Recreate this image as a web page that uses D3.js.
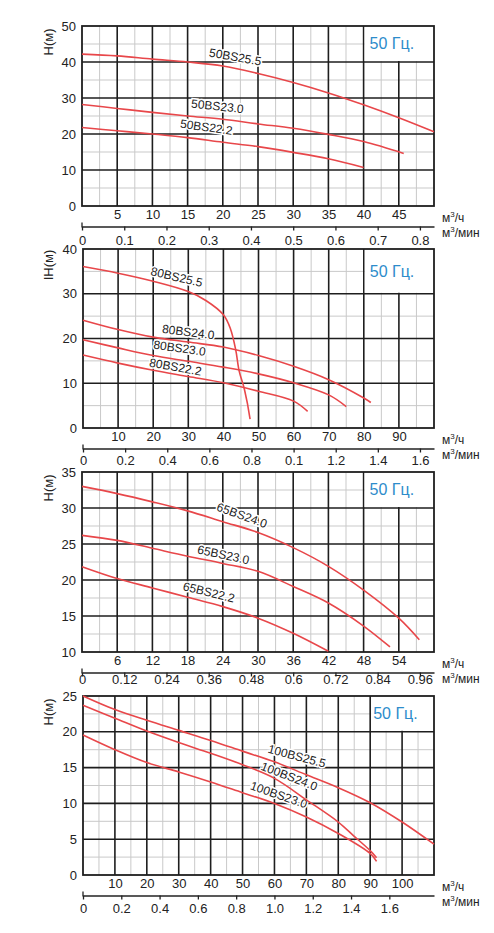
<!DOCTYPE html>
<html>
<head>
<meta charset="utf-8">
<script src="https://cdn.jsdelivr.net/npm/d3@7"></script>
<style>
  body { margin: 0; background: #fff; }
  svg { display: block; font-family: "Liberation Sans", Arial, sans-serif; }
</style>
</head>
<body>
<svg id="chart" width="494" height="933"></svg>
<script>
// ---- data: flow Q (m3/h) and head H (m) ----

// panel 1 : 50BS
var q50bs255 = [0, 5, 10, 15, 20, 25, 30, 35, 40, 45, 50];
var h50bs255 = [42.2, 41.7, 40.8, 40.0, 38.9, 36.8, 34.3, 31.4, 28.1, 24.5, 20.6];
var q50bs230 = [0, 5, 10, 15, 20, 25, 30, 35, 40, 45.7];
var h50bs230 = [28.2, 27.1, 26.0, 25.0, 24.1, 22.8, 21.6, 19.9, 17.9, 14.6];
var q50bs222 = [0, 5, 10, 15, 20, 25, 30, 35, 40];
var h50bs222 = [21.8, 20.9, 20.0, 19.0, 17.7, 16.5, 14.9, 13.1, 10.7];

// panel 2 : 80BS
var q80bs255 = [0, 10, 20, 30, 35, 40, 42, 43.5, 44.5, 46, 47.6];
var h80bs255 = [36.1, 34.6, 32.8, 30.5, 28.5, 25.3, 22.2, 17.5, 12.7, 8.6, 2.0];
var q80bs240 = [0, 10, 20, 30, 40, 50, 60, 70, 80, 82];
var h80bs240 = [24.1, 22.0, 20.3, 19.2, 18.1, 16.2, 13.8, 10.8, 6.7, 5.7];
var q80bs230 = [0, 10, 20, 30, 40, 50, 60, 70, 75];
var h80bs230 = [19.7, 17.9, 16.2, 14.9, 13.6, 12.1, 10.1, 7.4, 4.8];
var q80bs222 = [0, 10, 20, 30, 40, 50, 60, 64];
var h80bs222 = [16.3, 14.5, 12.9, 11.5, 10.1, 8.2, 6.0, 3.7];

// panel 3 : 65BS
var q65bs240 = [0, 6, 12, 18, 24, 30, 36, 42, 48, 54, 57.5];
var h65bs240 = [33.0, 32.0, 30.85, 29.6, 28.1, 26.6, 24.5, 21.9, 18.6, 14.7, 11.7];
var q65bs230 = [0, 6, 12, 18, 24, 30, 36, 42, 48, 52.5];
var h65bs230 = [26.2, 25.5, 24.4, 23.3, 22.3, 21.2, 19.1, 16.8, 13.6, 10.7];
var q65bs222 = [0, 6, 12, 18, 24, 30, 36, 42];
var h65bs222 = [21.85, 20.2, 18.9, 17.6, 16.3, 14.7, 12.6, 10.1];

// panel 4 : 100BS
var q100bs255 = [0, 10, 20, 30, 40, 50, 60, 70, 80, 90, 100, 110];
var h100bs255 = [25.0, 23.1, 21.6, 20.2, 18.8, 17.3, 15.8, 14.0, 12.2, 10.1, 7.4, 4.3];
var q100bs240 = [0, 10, 20, 30, 40, 50, 60, 70, 80, 85, 90, 92];
var h100bs240 = [23.7, 21.9, 20.1, 18.5, 17.0, 15.4, 13.5, 10.5, 7.4, 5.4, 3.4, 2.4];
var q100bs230 = [0, 10, 20, 30, 40, 50, 60, 70, 80, 90, 92];
var h100bs230 = [19.55, 17.5, 15.7, 14.4, 13.0, 11.5, 10.0, 8.1, 5.8, 3.0, 1.9];

// tick labels
var qTicks1 = [5, 10, 15, 20, 25, 30, 35, 40, 45];
var mTicks1 = ["0", "0.1", "0.2", "0.3", "0.4", "0.5", "0.6", "0.7", "0.8"];
var hTicks1 = [0, 10, 20, 30, 40, 50];
var qTicks2 = [10, 20, 30, 40, 50, 60, 70, 80, 90];
var mTicks2 = ["0", "0.2", "0.4", "0.6", "0.8", "0.1", "1.2", "1.4", "1.6"];
var hTicks2 = [0, 10, 20, 30, 40];
var qTicks3 = [6, 12, 18, 24, 30, 36, 42, 48, 54];
var mTicks3 = ["0", "0.12", "0.24", "0.36", "0.48", "0.6", "0.72", "0.84", "0.96"];
var hTicks3 = [10, 15, 20, 25, 30, 35];
var qTicks4 = [10, 20, 30, 40, 50, 60, 70, 80, 90, 100];
var mTicks4 = ["0", "0.2", "0.4", "0.6", "0.8", "1.0", "1.2", "1.4", "1.6"];
var hTicks4 = [0, 5, 10, 15, 20, 25];

var mStep = [0.1, 0.2, 0.12, 0.2];  // m3/min between secondary ticks
var freqLabel = "50 Гц.";
var yTitles = ["H(м)", "IH(м)", "H(м)", "H(м)"];

var red = "#e8474a";
var blue = "#2d8ccb";

function pairs(q, h) {
    return q.map((d, i) => [d, h[i]]);
}

// layout of the four panels; series/labels built from the arrays above
var panels = [
    {
        top: 26, bottom: 206, left: 82, right: 434,
        qMax: 50, hMin: 0, hMax: 50, qMinor: 2.5, hMinor: 5, qMajor: 5, hMajor: 10,
        box: [40, 40], qTicks: qTicks1, mTicks: mTicks1, hTicks: hTicks1, sec: 34,
        series: [
            {name: "50BS25.5", pts: pairs(q50bs255, h50bs255), at: [21.7, 40.6], rot: 10},
            {name: "50BS23.0", pts: pairs(q50bs230, h50bs230), at: [19.2, 26.9], rot: 6},
            {name: "50BS22.2", pts: pairs(q50bs222, h50bs222), at: [17.6, 21.1], rot: 8}
        ]
    },
    {
        top: 249, bottom: 428, left: 83, right: 434,
        qMax: 100, hMin: 0, hMax: 40, qMinor: 5, hMinor: 5, qMajor: 10, hMajor: 10,
        box: [80, 30], qTicks: qTicks2, mTicks: mTicks2, hTicks: hTicks2, sec: 32,
        series: [
            {name: "80BS25.5", pts: pairs(q80bs255, h80bs255), at: [26.5, 33.1], rot: 13},
            {name: "80BS24.0", pts: pairs(q80bs240, h80bs240), at: [29.9, 20.8], rot: 7},
            {name: "80BS23.0", pts: pairs(q80bs230, h80bs230), at: [27.4, 17.2], rot: 8},
            {name: "80BS22.2", pts: pairs(q80bs222, h80bs222), at: [26.2, 13.0], rot: 10}
        ]
    },
    {
        top: 472, bottom: 652, left: 82, right: 434,
        qMax: 60, hMin: 10, hMax: 35, qMinor: 3, hMinor: 2.5, qMajor: 6, hMajor: 5,
        box: [48, 30], qTicks: qTicks3, mTicks: mTicks3, hTicks: hTicks3, sec: 27,
        series: [
            {name: "65BS24.0", pts: pairs(q65bs240, h65bs240), at: [27.1, 28.6], rot: 20},
            {name: "65BS23.0", pts: pairs(q65bs230, h65bs230), at: [24.0, 23.1], rot: 12},
            {name: "65BS22.2", pts: pairs(q65bs222, h65bs222), at: [21.5, 17.9], rot: 14}
        ]
    },
    {
        top: 696, bottom: 875, left: 83, right: 434,
        qMax: 110, hMin: 0, hMax: 25, qMinor: 5, hMinor: 2.5, qMajor: 10, hMajor: 5,
        box: [90, 20], qTicks: qTicks4, mTicks: mTicks4, hTicks: hTicks4, sec: 33,
        series: [
            {name: "100BS25.5", pts: pairs(q100bs255, h100bs255), at: [66.8, 16.2], rot: 15},
            {name: "100BS24.0", pts: pairs(q100bs240, h100bs240), at: [64.3, 13.4], rot: 21},
            {name: "100BS23.0", pts: pairs(q100bs230, h100bs230), at: [61.1, 10.8], rot: 19}
        ]
    }
];

var svg = d3.select("#chart");

function drawPanel(p, idx) {
    let x = d3.scaleLinear().domain([0, p.qMax]).range([p.left, p.right]);
    let y = d3.scaleLinear().domain([p.hMin, p.hMax]).range([p.bottom, p.top]);
    let g = svg.append("g");

    // minor grid (gray)
    let qMinor = d3.range(p.qMinor, p.qMax, p.qMinor * 2);
    let hMinor = d3.range(p.hMin + p.hMinor, p.hMax, p.hMinor * 2);
    g.selectAll("line.vmin").data(qMinor).join("line")
        .attr("x1", d => x(d)).attr("x2", d => x(d))
        .attr("y1", p.top).attr("y2", p.bottom)
        .attr("stroke", "#c9c9c9").attr("stroke-width", 1);
    g.selectAll("line.hmin").data(hMinor).join("line")
        .attr("y1", d => y(d)).attr("y2", d => y(d))
        .attr("x1", p.left).attr("x2", p.right)
        .attr("stroke", "#c9c9c9").attr("stroke-width", 1);

    // major grid (black)
    let qMajor = d3.range(p.qMajor, p.qMax - 0.001, p.qMajor);
    let hMajor = d3.range(p.hMin + p.hMajor, p.hMax - 0.001, p.hMajor);
    g.selectAll("line.vmaj").data(qMajor).join("line")
        .attr("x1", d => x(d)).attr("x2", d => x(d))
        .attr("y1", p.top).attr("y2", p.bottom)
        .attr("stroke", "#1e1e1e").attr("stroke-width", 1.6);
    g.selectAll("line.hmaj").data(hMajor).join("line")
        .attr("y1", d => y(d)).attr("y2", d => y(d))
        .attr("x1", p.left).attr("x2", p.right)
        .attr("stroke", "#1e1e1e").attr("stroke-width", 1.6);

    // white box for the frequency label
    let bx = x(p.box[0]), by = y(p.box[1]);
    g.append("rect")
        .attr("x", bx + 1).attr("y", p.top)
        .attr("width", p.right - bx - 1).attr("height", by - p.top - 1)
        .attr("fill", "#fff");
    g.append("text")
        .attr("x", bx + (idx == 3 ? 3 : 6)).attr("y", (p.top + by) / 2 + 1)
        .attr("dominant-baseline", "middle")
        .attr("fill", blue).attr("font-size", "16px")
        .text(freqLabel);

    // frame
    g.append("rect")
        .attr("x", p.left).attr("y", p.top)
        .attr("width", p.right - p.left).attr("height", p.bottom - p.top)
        .attr("fill", "none").attr("stroke", "#1e1e1e").attr("stroke-width", 1.8);

    // curve names, with a white halo over the grid
    g.selectAll("text.clabel").data(p.series).join("text")
        .attr("transform", d => "translate(" + x(d.at[0]) + "," + y(d.at[1]) + ") rotate(" + d.rot + ")")
        .attr("y", -2)
        .attr("text-anchor", "middle").attr("dominant-baseline", "middle")
        .attr("font-size", "12px").attr("fill", "#222")
        .attr("stroke", "#fff").attr("stroke-width", 3).attr("paint-order", "stroke")
        .text(d => d.name);

    // curves
    let line = d3.line().x(d => x(d[0])).y(d => y(d[1])).curve(d3.curveCatmullRom.alpha(0.5));
    g.selectAll("path.curve").data(p.series).join("path")
        .attr("d", d => line(d.pts))
        .attr("fill", "none").attr("stroke", red).attr("stroke-width", 1.6);

    // y axis numbers
    let yAxis = d3.axisLeft(y).tickValues(p.hTicks).tickSize(0).tickPadding(6);
    let ya = g.append("g").attr("transform", "translate(" + p.left + ",0)").call(yAxis);
    ya.select(".domain").remove();
    ya.selectAll("text").attr("font-size", "13px").attr("fill", "#222")
        .attr("font-family", "Liberation Sans, Arial, sans-serif");

    g.append("text")
        .attr("transform", "translate(50," + (p.top + 16) + ") rotate(-90)")
        .attr("text-anchor", "middle").attr("dominant-baseline", "middle")
        .attr("font-size", "13px").attr("fill", "#222")
        .text(yTitles[idx]);

    // primary x axis numbers (m3/h)
    let xAxis = d3.axisBottom(x).tickValues(p.qTicks).tickSize(0).tickPadding(4);
    let xa = g.append("g").attr("transform", "translate(0," + p.bottom + ")").call(xAxis);
    xa.select(".domain").remove();
    xa.selectAll("text").attr("font-size", "13px").attr("fill", "#222")
        .attr("font-family", "Liberation Sans, Arial, sans-serif");

    // secondary axis (m3/min)
    let m = d3.scaleLinear().domain([0, p.qMax / 60]).range([p.left, p.right]);
    let mVals = p.mTicks.map((d, i) => i * mStep[idx]);
    let mAxis = d3.axisBottom(m).tickValues(mVals).tickSize(4).tickSizeOuter(0)
        .tickFormat((d, i) => p.mTicks[i]).tickPadding(3);
    let lineY = p.bottom + 20.5;
    let ma = g.append("g").attr("transform", "translate(0," + lineY + ")").call(mAxis);
    ma.select(".domain").attr("stroke", "#222").attr("stroke-width", 1.3);
    ma.selectAll(".tick line").attr("stroke", "#222").attr("stroke-width", 1.3);
    ma.selectAll("text").attr("font-size", "13px").attr("fill", "#222")
        .attr("font-family", "Liberation Sans, Arial, sans-serif")
        .attr("y", p.sec - 20.5).attr("dy", "0.35em");
    ma.append("line")
        .attr("x1", m(0)).attr("x2", m(0)).attr("y1", -4).attr("y2", 1)
        .attr("stroke", "#222").attr("stroke-width", 1.3);

    // unit labels
    let u1 = g.append("text").attr("x", 442).attr("y", p.bottom + 13)
        .attr("dominant-baseline", "middle").attr("font-size", "12px").attr("fill", "#222");
    u1.append("tspan").text("м");
    u1.append("tspan").attr("font-size", "8px").attr("dy", "-4").text("3");
    u1.append("tspan").attr("dy", "4").text("/ч");
    let u2 = g.append("text").attr("x", 442).attr("y", p.bottom + 28)
        .attr("dominant-baseline", "middle").attr("font-size", "12px").attr("fill", "#222");
    u2.append("tspan").text("м");
    u2.append("tspan").attr("font-size", "8px").attr("dy", "-4").text("3");
    u2.append("tspan").attr("dy", "4").text("/мин");
}

panels.forEach(drawPanel);
</script>
</body>
</html>
